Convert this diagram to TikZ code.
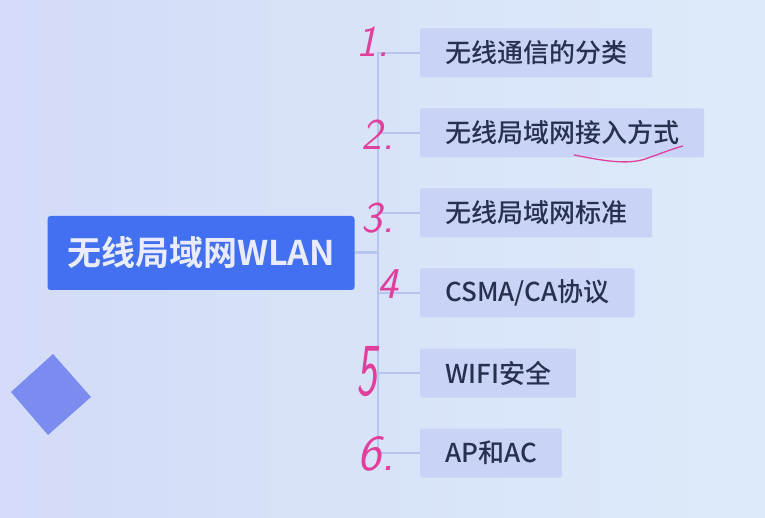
\documentclass[tikz,border=0pt]{standalone}
\usepackage{fontspec}
\usepackage{xcolor}
\newfontfamily\cjk{Noto Sans CJK SC Medium}
\newfontfamily\cjkroot{Noto Sans CJK SC Bold}
\usetikzlibrary{positioning}
\definecolor{bgleft}{HTML}{D3DBF8}
\definecolor{bgright}{HTML}{DDEBF9}
\definecolor{rootblue}{HTML}{4270F0}
\definecolor{leafbox}{HTML}{C9D3F5}
\definecolor{leaftext}{HTML}{283050}
\definecolor{branchline}{HTML}{B6C6EE}
\definecolor{gem}{HTML}{7A8CF0}
\definecolor{pen}{HTML}{E0409C}
\tikzset{
  rootbox/.style={fill=rootblue, rounded corners=3pt, text=white!92!blue, minimum width=307pt, minimum height=74pt, inner sep=0pt, font=\cjkroot\fontsize{34}{40}\selectfont},
  leafbox/.style={fill=leafbox, rounded corners=2pt, text=leaftext, anchor=west, minimum height=49pt, inner xsep=25pt, inner ysep=0pt, font=\cjk\fontsize{26}{30}\selectfont},
  branch/.style={draw=branchline, line width=2pt},
  penmark/.style={text=pen, font=\sffamily\itshape\fontsize{44}{50}\selectfont, inner sep=0pt},
}
\begin{document}
\begin{tikzpicture}[x=1pt, y=-1pt]
        % background
        \useasboundingbox (0,0) rectangle (765,518);
        \shade[left color=bgleft, right color=bgright] (0,0) rectangle (765,518);
        \fill[gem] (53,354) -- (91,397) -- (48,435) -- (11,392) -- cycle;

        % topic
        \node[rootbox] (root) at (201,253) {无线局域网WLAN};
        \coordinate (hub) at (378,253);

        % subtopics
        \node[leafbox] (c1) at (420,53) {无线通信的分类};
        \node[leafbox] (c2) at (420,133) {无线局域网接入方式};
        \node[leafbox] (c3) at (420,213) {无线局域网标准};
        \node[leafbox] (c4) at (420,293) {CSMA/CA协议};
        \node[leafbox] (c5) at (420,373) {WIFI安全};
        \node[leafbox] (c6) at (420,453) {AP和AC};

        \draw[branch, line width=3pt] (root.east) -- (hub);
        \foreach \i in {1,...,6}
            \draw[branch] (c\i.west) -| (hub);

        % pen notes
        \node[penmark] (n1) at (373,42) {1.};
        \node[penmark] (n2) at (378,135) {2.};
        \node[penmark] (n3) at (378,218) {3.};
        \node[penmark] (n4) at (388,284) {4};
        \node[penmark, yscale=1.7] (n5) at (367,372) {5};
        \node[penmark, scale=1.15] (n6) at (376,454) {6.};
        \draw[pen, line width=1.3pt] (574,155) .. controls (600,160) and (628,166) .. (648,158) .. controls (662,153) and (672,149) .. (683,146);
\end{tikzpicture}
\end{document}
